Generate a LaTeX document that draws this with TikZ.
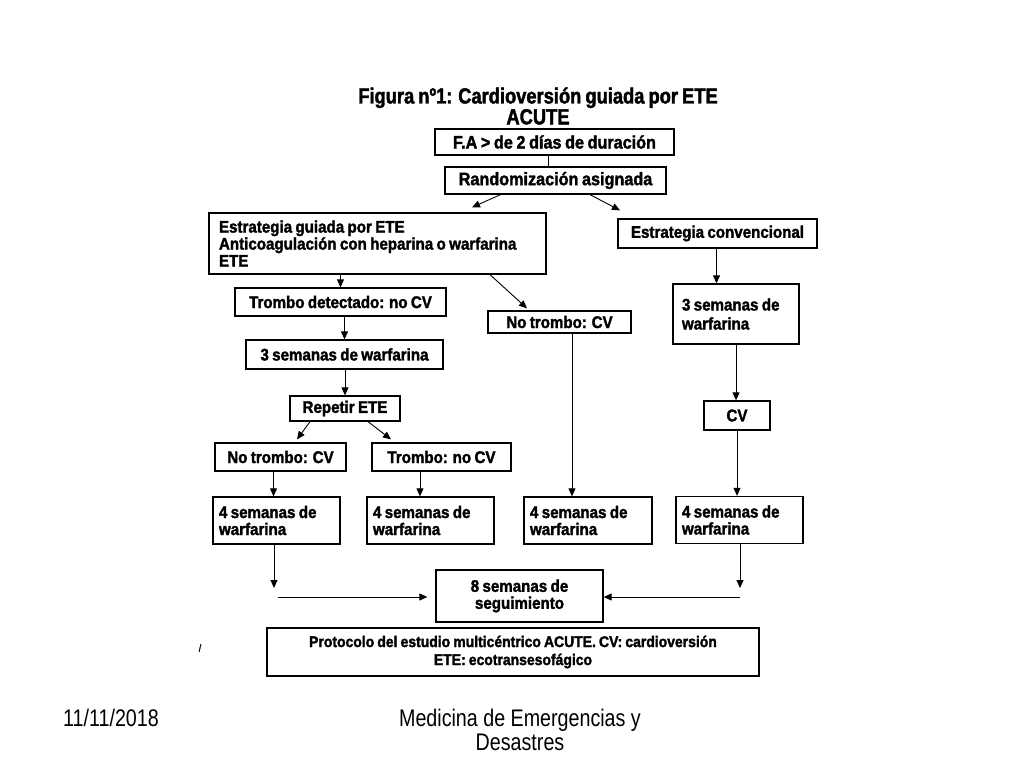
\documentclass[tikz,border=0pt]{standalone}
\usepackage{fontspec}
\setmainfont{Liberation Sans}[FakeStretch=0.9, FakeBold=1.8, WordSpace=0.8]
\newfontfamily\titlefont{Liberation Sans}[FakeStretch=0.84, FakeBold=1.8, WordSpace=0.8]
\newfontfamily\footfont{Liberation Sans}[FakeStretch=0.82]
\usetikzlibrary{arrows.meta}
\begin{document}
\begin{tikzpicture}[x=1pt,y=-1pt,
  box/.style={draw, line width=1.3pt, inner sep=0pt, align=center,
    font=\bfseries\fontsize{16.8}{17}\selectfont},
  lbox/.style={box, align=flush left},
  bigbox/.style={box, font=\bfseries\fontsize{18}{18}\selectfont},
  arr/.style={line width=0.9pt, -{Triangle[length=8pt,width=7pt]}},
  ln/.style={line width=0.9pt}]
\useasboundingbox[fill=white] (0,0) rectangle (1024,768);

% title
\node[font=\titlefont\bfseries\fontsize{21.8}{17.5}\selectfont, align=center] (title) at (538,106)
  {Figura n\textordmasculine1: Cardioversión guiada por ETE\\ACUTE};

% boxes
\node[bigbox, minimum width=239pt, minimum height=26pt] (fa) at (554.5,142) {F.A > de 2 días de duración};
\node[bigbox, minimum width=221pt, minimum height=27pt] (rand) at (555.5,180.5) {Randomización asignada};
\node[lbox, minimum width=337pt, minimum height=61pt, text width=317pt] (egl) at (377.5,243.5)
  {Estrategia guiada por ETE\\Anticoagulación con heparina o warfarina\\ETE};
\node[box, minimum width=199pt, minimum height=29pt] (conv) at (717.5,233.5) {Estrategia convencional};
\node[lbox, minimum width=126pt, minimum height=60pt, text width=108pt,
  font=\bfseries\fontsize{16.8}{19}\selectfont] (semr) at (736,314) {3 semanas de\\warfarina};
\node[box, minimum width=66pt, minimum height=29pt] (cv) at (737,415.5) {CV};
\node[lbox, minimum width=127pt, minimum height=47pt, text width=115pt] (sd) at (739.5,520) {4 semanas de\\warfarina};

\node[box, minimum width=211pt, minimum height=28pt] (trd) at (340.5,302) {Trombo detectado: no CV};
\node[box, minimum width=197pt, minimum height=29pt] (seml) at (344.5,354.5) {3 semanas de warfarina};
\node[box, minimum width=110pt, minimum height=25pt] (rep) at (345,408.5) {Repetir ETE};
\node[box, minimum width=131pt, minimum height=28pt] (ntl) at (280.5,457) {No trombo: CV};
\node[box, minimum width=139pt, minimum height=28pt] (tnc) at (441.5,457) {Trombo: no CV};
\node[lbox, minimum width=127pt, minimum height=47pt, text width=115pt] (sa) at (276.5,520.5) {4 semanas de\\warfarina};
\node[lbox, minimum width=127pt, minimum height=47pt, text width=115pt] (sb) at (430.5,520.5) {4 semanas de\\warfarina};

\node[box, minimum width=143pt, minimum height=22pt] (ntm) at (559.5,322) {No trombo: CV};
\node[lbox, minimum width=128pt, minimum height=47pt, text width=116pt] (sc) at (588,520.5) {4 semanas de\\warfarina};

\node[box, minimum width=167pt, minimum height=52pt] (seg) at (519.5,596) {8 semanas de\\seguimiento};
\node[box, minimum width=492pt, minimum height=48pt, font=\bfseries\fontsize{15.5}{18}\selectfont] (prot) at (513,652)
  {Protocolo del estudio multicéntrico ACUTE. CV: cardioversión\\ETE: ecotransesofágico};

\node[font=\fontsize{10}{10}\selectfont] (mark) at (200,648) {/};

% footer
\node[font=\footfont\fontsize{24}{24}\selectfont] (date) at (111,718) {11/11/2018};
\node[font=\footfont\fontsize{24}{24}\selectfont, align=center] (foot) at (520,730) {Medicina de Emergencias y\\Desastres};

% connectors
\draw[ln] ([xshift=-6pt]fa.south) -- ([xshift=-6pt]fa.south |- rand.north);
\draw[arr] ([xshift=-55pt]rand.south) -- ([xshift=94.5pt,yshift=5pt]egl.north);
\draw[arr] ([xshift=34.5pt]rand.south) -- ([xshift=-97.5pt,yshift=8pt]conv.north);

\draw[arr] ([xshift=-1pt]conv.south) -- ([xshift=-1pt]conv.south |- semr.north);
\draw[arr] (semr.south) -- (semr.south |- cv.north);
\draw[arr] (cv.south) -- (cv.south |- sd.north);

\draw[arr] (egl.south -| trd.north) -- (trd.north);
\draw[arr] (trd.south -| seml.north) -- (seml.north);
\draw[arr] (seml.south -| rep.north) -- (rep.north);
\draw[arr] ([xshift=-35pt]rep.south) -- ([xshift=16.5pt,yshift=3pt]ntl.north);
\draw[arr] ([xshift=23pt]rep.south) -- ([xshift=-50.5pt,yshift=3pt]tnc.north);
\draw[arr] ([xshift=-7pt]ntl.south) -- ([xshift=-7pt]ntl.south |- sa.north);
\draw[arr] ([xshift=-21.5pt]tnc.south) -- ([xshift=-21.5pt]tnc.south |- sb.north);

\draw[arr] ([xshift=112.5pt]egl.south) -- ([xshift=-32.5pt,yshift=2pt]ntm.north);
\draw[arr] ([xshift=12.5pt]ntm.south) -- ([xshift=12.5pt]ntm.south |- sc.north);

\coordinate (la) at (274,588);
\coordinate (ls) at (278,597);
\coordinate (ra) at (740,588);
\coordinate (rs) at (740,597);
\draw[arr] (sa.south -| la) -- (la);
\draw[arr, shorten >=8pt] (ls) -- (ls -| seg.west);
\draw[arr] (sd.south -| ra) -- (ra);
\draw[arr] (rs) -- (rs -| seg.east);
\end{tikzpicture}
\end{document}
